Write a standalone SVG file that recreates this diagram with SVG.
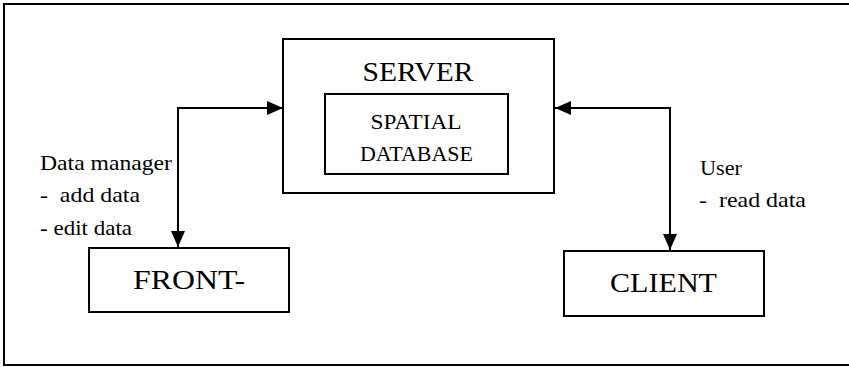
<svg xmlns="http://www.w3.org/2000/svg" width="849" height="367" viewBox="0 0 849 367">
<style>
.box{fill:#fff;stroke:#000;stroke-width:2}
.ln{fill:none;stroke:#000;stroke-width:2}
.big{font-size:28px;text-anchor:middle}
.mid{font-size:22px;text-anchor:middle}
.lab{font-size:21px}
</style>
<defs>
<marker id="ah" markerWidth="16" markerHeight="14" refX="16" refY="7" orient="auto-start-reverse" markerUnits="userSpaceOnUse">
<path d="M0,0 L16,7 L0,14 Z" fill="#000"/>
</marker>
</defs>
<rect x="4" y="4" width="850" height="361" fill="#fff" stroke="#000" stroke-width="2"/>
<g font-family="Liberation Serif, Times New Roman, DejaVu Serif, serif" fill="#000">
<g id="server">
<rect class="box" x="283" y="39" width="271" height="154"/>
<text class="big" x="418" y="81" textLength="111" lengthAdjust="spacingAndGlyphs">SERVER</text>
</g>
<g id="spatial-database">
<rect class="box" x="325" y="94" width="183" height="80"/>
<text class="mid" x="416" y="129" textLength="91" lengthAdjust="spacingAndGlyphs">SPATIAL</text>
<text class="mid" x="416.5" y="161" textLength="113" lengthAdjust="spacingAndGlyphs">DATABASE</text>
</g>
<g id="front">
<rect class="box" x="89" y="248" width="200" height="64"/>
<text class="big" x="189" y="289" textLength="112" lengthAdjust="spacingAndGlyphs">FRONT-</text>
</g>
<g id="client">
<rect class="box" x="564" y="251" width="200" height="65"/>
<text class="big" x="663.5" y="292" textLength="107" lengthAdjust="spacingAndGlyphs">CLIENT</text>
</g>
<g id="connectors">
<path class="ln" d="M178,247 L178,108 L283,108" marker-start="url(#ah)" marker-end="url(#ah)"/>
<path class="ln" d="M670,250 L670,108 L555,108" marker-start="url(#ah)" marker-end="url(#ah)"/>
</g>
<g id="labels">
<text class="lab" x="40" y="170" textLength="132" lengthAdjust="spacingAndGlyphs">Data manager</text>
<text class="lab" x="40" y="202" textLength="100" lengthAdjust="spacingAndGlyphs" xml:space="preserve">-  add data</text>
<text class="lab" x="40" y="235" textLength="92" lengthAdjust="spacingAndGlyphs">- edit data</text>
<text class="lab" x="700" y="175" textLength="42" lengthAdjust="spacingAndGlyphs">User</text>
<text class="lab" x="699" y="207" textLength="107" lengthAdjust="spacingAndGlyphs" xml:space="preserve">-  read data</text>
</g>
</g>
</svg>
